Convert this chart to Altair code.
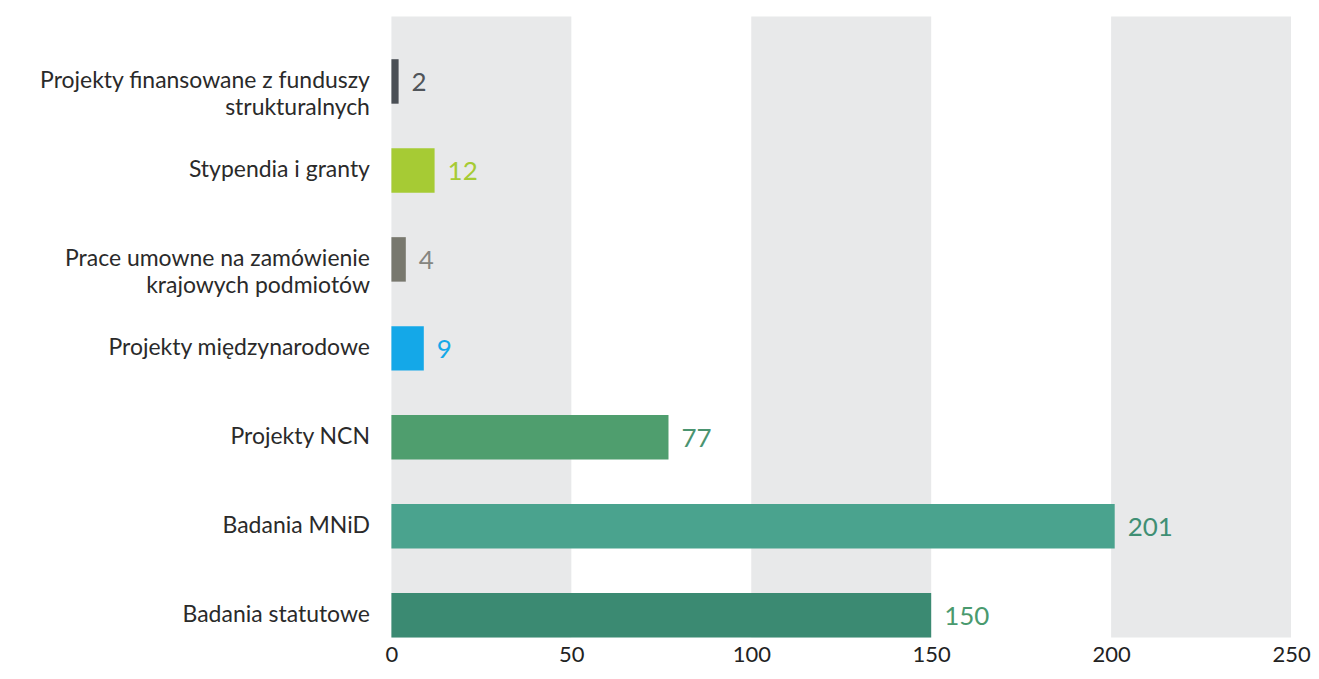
import altair as alt
import pandas as pd

categories = [
    "Projekty finansowane z funduszy|strukturalnych",
    "Stypendia i granty",
    "Prace umowne na zamówienie|krajowych podmiotów",
    "Projekty międzynarodowe",
    "Projekty NCN",
    "Badania MNiD",
    "Badania statutowe",
]
values = [2, 12, 4, 9, 77, 201, 150]
bar_colors = ["#4a4f55", "#a6cb34", "#78786e", "#14a8e8", "#4f9e6e", "#4aa38e", "#3b8a72"]
text_colors = ["#50555a", "#a6cb34", "#858580", "#14a8e8", "#4a9470", "#3f8f74", "#4a9a6e"]

band_start = [0, 100, 200]
band_end = [50, 150, 250]

df = pd.DataFrame({"cat": categories, "val": values, "bc": bar_colors, "tc": text_colors})
bands = pd.DataFrame({"s": band_start, "e": band_end})

FONT = "Lato"
xscale = alt.Scale(domain=[0, 250], nice=False, zero=True)

band_layer = alt.Chart(bands).mark_rect(color="#e8e9ea").encode(
    x=alt.X("s:Q", scale=xscale,
            axis=alt.Axis(values=[0, 50, 100, 150, 200, 250], title=None, grid=False,
                          domain=False, ticks=False, labelFont=FONT, labelFontSize=22,
                          labelColor="#222222", labelPadding=7, labelFlush=False)),
    x2="e:Q",
)

yenc = alt.Y("cat:N", sort=categories,
             scale=alt.Scale(paddingInner=0.5, paddingOuter=0.24, align=1),
             axis=alt.Axis(title=None, domain=False, ticks=False, grid=False,
                           labelFont=FONT, labelFontSize=23, labelColor="#2a2a2a",
                           labelPadding=22, labelLimit=400, labelLineHeight=27,
                           labelExpr="split(datum.label, '|')"))

bars = alt.Chart(df).mark_bar().encode(
    x=alt.X("val:Q", scale=xscale),
    y=yenc,
    color=alt.Color("bc:N", scale=None),
)

texts = alt.Chart(df).mark_text(align="left", baseline="middle", dx=13, dy=2,
                                font=FONT, fontSize=26).encode(
    x=alt.X("val:Q", scale=xscale),
    y=alt.Y("cat:N", sort=categories),
    text="val:Q",
    color=alt.Color("tc:N", scale=None),
)

chart = alt.layer(band_layer, bars, texts).properties(
    width=901, height=622,
    autosize=alt.AutoSizeParams(type="none"),
    padding={"left": 384, "top": 8, "right": 20, "bottom": 33},
    background="white",
).configure_view(stroke=None)

chart.save("out.html", embed_options={"renderer": "svg", "actions": False})
